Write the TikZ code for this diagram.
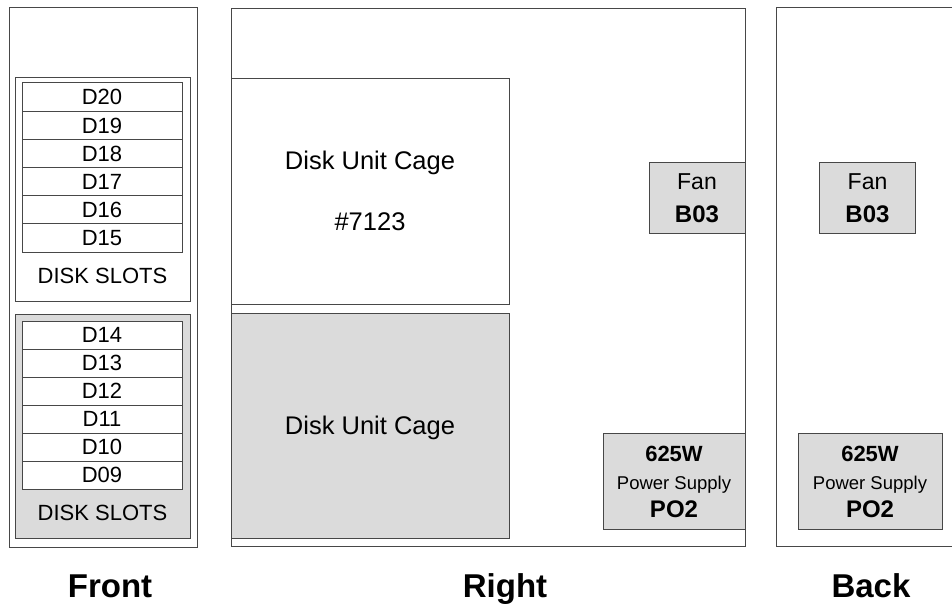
\documentclass[tikz,border=0pt]{standalone}
\usepackage{fontspec}
\setmainfont{Liberation Sans}
\usepackage{tikz}

\begin{document}
\begin{tikzpicture}[x=1pt,y=-1pt,
  box/.style={draw=black!72,line width=1pt,inner sep=0pt},
  shaded/.style={box,fill=black!14},
  fs/.style={inner sep=0pt,font=\fontsize{#1}{#1}\selectfont,anchor=base,yshift={-0.358*#1}},
  bfs/.style={fs=#1,font=\fontsize{#1}{#1}\selectfont\bfseries},
  slot/.style={box,fill=white,minimum width=160}]
  \useasboundingbox (0,0) rectangle (952,608);
  % ---------------- front: two groups of disk slots
  \node[box,minimum width=188,minimum height=540] (front) at (103.5,277) {};
  \node[box,minimum width=175,minimum height=224] (top-grp) at (102.5,189) {};
  \node[shaded,minimum width=175,minimum height=224] (low-grp) at (102.5,426) {};
  \foreach \n [count=\i from 0] in {20,19,18,17,16,15}{
    \node[slot,minimum height=28.17] (d\n) at (102,{97.08+28.17*\i}) {};
    \node[fs=22] (d\n-lbl) at (d\n.center) {D\n};
  }
  \foreach \n [count=\i from 0] in {14,13,12,11,10,09}{
    \node[slot,minimum height=28] (d\n) at (102,{335+28*\i}) {};
    \node[fs=22] (d\n-lbl) at (d\n.center) {D\n};
  }
  \node[fs=22] (top-lbl) at (102.5,276) {DISK SLOTS};
  \node[fs=22] (low-lbl) at (102.5,513) {DISK SLOTS};
  \node[bfs=33] (front-lbl) at (110,586) {Front};
  % ---------------- right side: cages
  \node[box,minimum width=514,minimum height=538] (right) at (488,277) {};
  \node[box,minimum width=278,minimum height=226] (cage-a) at (370,191) {};
  \node[shaded,minimum width=278,minimum height=225] (cage-b) at (370,425.5) {};
  \node[fs=25.5] (cage-a-lbl) at (370,160) {Disk Unit Cage};
  \node[fs=25.5] (cage-a-no) at (370,221) {\#7123};
  \node[fs=25.5] (cage-b-lbl) at (370,425) {Disk Unit Cage};
  \node[bfs=33] (right-lbl) at (505,586) {Right};
  % ---------------- back side
  \node[box,minimum width=194,minimum height=539] (back) at (873,276.5) {};
  \node[bfs=33] (back-lbl) at (871,586) {Back};
  % ---------------- fans and power supplies, same on both sides
  \foreach \s/\fx/\px/\pw in {r/697/674/142,b/867.5/870/144}{
    \node[shaded,minimum width=96,minimum height=71] (fan-\s) at (\fx,197.5) {};
    \node[fs=23] (fan-\s-a) at (\fx,181) {Fan};
    \node[bfs=24] (fan-\s-b) at (\fx,214) {B03};
    \node[shaded,minimum width=\pw,minimum height=96] (psu-\s) at (\px,481) {};
    \node[bfs=22] (psu-\s-a) at (\px,454) {625W};
    \node[fs=18.5] (psu-\s-b) at (\px,483) {Power Supply};
    \node[bfs=24] (psu-\s-c) at (\px,509) {PO2};
  }
\end{tikzpicture}
\end{document}
